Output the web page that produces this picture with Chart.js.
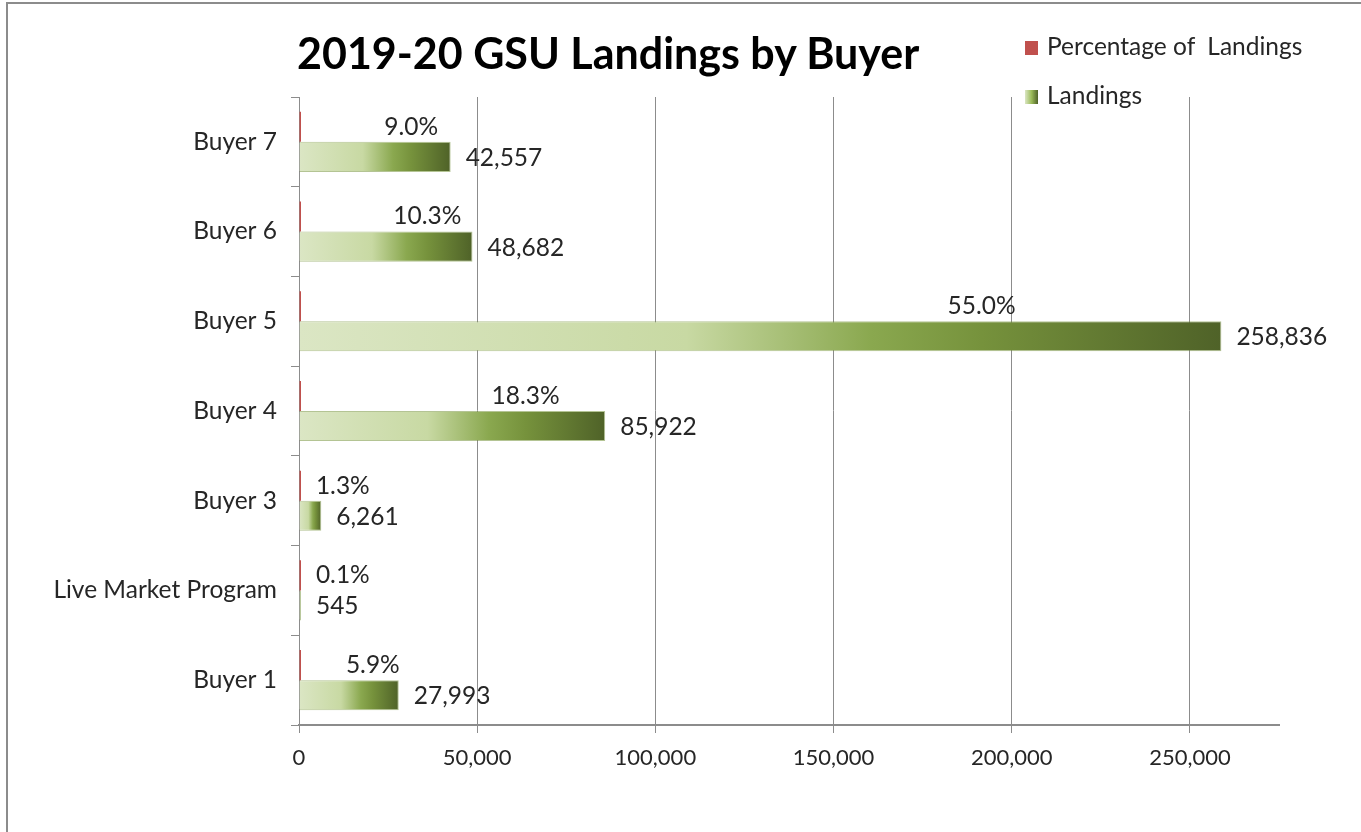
<!DOCTYPE html>
<html lang="en">
<head>
  <meta charset="UTF-8" />
  <title>2019-20 GSU Landings by Buyer</title>
  <script src="https://cdn.jsdelivr.net/npm/chart.js"></script>
  <style>
    html, body { margin: 0; padding: 0; background: #fff; }
    body { width: 1361px; height: 832px; position: relative; overflow: hidden; font-family: Lato, sans-serif; color: #262626; }
    #frame { position: absolute; left: 6px; top: 2px; right: 0; bottom: 0; border-top: 2px solid #8c8c8c; border-left: 2px solid #8c8c8c; }
    #chart { position: absolute; left: 0; top: 0; }
    #title { position: absolute; left: 297px; top: 27px; font-weight: bold; font-size: 43px; line-height: 52px; color: #000; white-space: nowrap; }
    .leg { position: absolute; left: 1025px; font-size: 24.5px; white-space: pre; line-height: 26px; }
    .leg i { display: inline-block; width: 13px; height: 14px; margin-right: 9px; vertical-align: 0px; }
  </style>
</head>
<body>
  <div id="frame"></div>
  <canvas id="chart" width="1361" height="832"></canvas>
  <div id="title">2019-20 GSU Landings by Buyer</div>
  <div class="leg" style="top: 33px;"><i style="background:#c0504d"></i>Percentage of  Landings</div>
  <div class="leg" style="top: 82px;"><i style="background:linear-gradient(to right,#dbe6c4,#9bbb59,#4f6228)"></i>Landings</div>

  <script>
    const buyers = ["Buyer 7", "Buyer 6", "Buyer 5", "Buyer 4", "Buyer 3", "Live Market Program", "Buyer 1"];
    const landings = [42557, 48682, 258836, 85922, 6261, 545, 27993];
    const pctLandings = [0.090, 0.103, 0.550, 0.183, 0.013, 0.001, 0.059];
    const xTicks = [0, 50000, 100000, 150000, 200000, 250000];

    const labelFont = "24.5px Lato";
    const textColor = "#262626";

    function barGradient(ctx) {
      const chart = ctx.chart;
      if (!chart.chartArea || ctx.raw === undefined) return "#77933c";
      const x0 = chart.scales.x.getPixelForValue(0);
      const x1 = chart.scales.x.getPixelForValue(ctx.raw);
      if (x1 - x0 < 1) return "#9bbb59";
      const g = chart.ctx.createLinearGradient(x0, 0, x1, 0);
      g.addColorStop(0, "#dbe6c4");
      g.addColorStop(0.42, "#c8d9a3");
      g.addColorStop(0.62, "#8aa84f");
      g.addColorStop(0.74, "#76923c");
      g.addColorStop(1, "#4f6228");
      return g;
    }

    // value labels: landings after bar end, percentages above the bar
    const valueLabels = {
      id: "valueLabels",
      afterDatasetsDraw(chart) {
        const c = chart.ctx;
        const xs = chart.scales.x;
        const pctMeta = chart.getDatasetMeta(0);
        const landMeta = chart.getDatasetMeta(1);
        c.save();
        c.font = labelFont;
        c.fillStyle = textColor;
        c.textBaseline = "middle";
        landMeta.data.forEach((bar, i) => {
          c.textAlign = "left";
          c.fillText(landings[i].toLocaleString("en-US"), bar.x + 15, bar.y + 1);
          const px = xs.getPixelForValue(Math.max(landings[i] * 0.74, 12300));
          c.textAlign = "center";
          c.fillText((pctLandings[i] * 100).toFixed(1) + "%", px, pctMeta.data[i].y);
        });
        c.restore();
      }
    };

    new Chart(document.getElementById("chart"), {
      type: "bar",
      data: {
        labels: buyers,
        datasets: [
          {
            label: "Percentage of  Landings",
            data: pctLandings,
            backgroundColor: "#c0504d",
            minBarLength: 2,
            categoryPercentage: 0.67,
            barPercentage: 1
          },
          {
            label: "Landings",
            data: landings,
            backgroundColor: barGradient,
            borderColor: "rgba(119,147,60,0.55)",
            borderWidth: 1,
            categoryPercentage: 0.67,
            barPercentage: 1
          }
        ]
      },
      options: {
        indexAxis: "y",
        responsive: false,
        animation: false,
        layout: { padding: { top: 97, right: 82, bottom: 0, left: 0 } },
        plugins: {
          legend: { display: false },
          title: { display: false },
          tooltip: { enabled: false }
        },
        scales: {
          x: {
            min: 0,
            max: 275000,
            afterBuildTicks: s => { s.ticks = xTicks.map(v => ({ value: v })); },
            ticks: {
              font: { family: "Lato", size: 22 },
              color: textColor,
              padding: 12,
              callback: v => v.toLocaleString("en-US")
            },
            grid: { color: "#8c8c8c", lineWidth: 1, tickLength: 8 },
            border: { color: "#8c8c8c", width: 2 },
            afterFit: s => { s.height = 107; }
          },
          y: {
            ticks: {
              font: { family: "Lato", size: 24.5 },
              color: textColor,
              padding: 14
            },
            grid: { drawOnChartArea: false, color: "#8c8c8c", tickLength: 8, offset: true },
            border: { color: "#8c8c8c", width: 1 },
            afterFit: s => { s.width = 299; }
          }
        }
      },
      plugins: [valueLabels]
    });
  </script>
</body>
</html>
